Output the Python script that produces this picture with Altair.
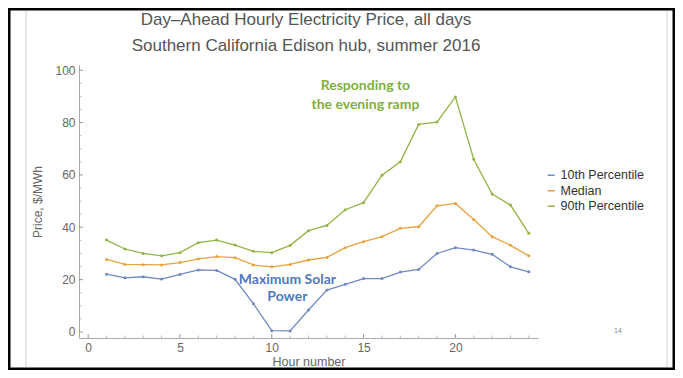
import altair as alt
import pandas as pd

hours = list(range(1, 25))
p10 = [22.1, 20.7, 21.1, 20.2, 22.0, 23.7, 23.5, 20.1, 10.8, 0.5, 0.4, 8.4,
       16.0, 18.2, 20.4, 20.4, 22.9, 23.9, 30.0, 32.2, 31.3, 29.7, 24.9, 23.0]
median = [27.7, 25.8, 25.7, 25.6, 26.5, 27.9, 28.8, 28.4, 25.6, 24.9, 25.8, 27.5,
          28.5, 32.2, 34.5, 36.4, 39.6, 40.2, 48.2, 49.1, 43.0, 36.4, 33.1, 29.1]
p90 = [35.1, 31.7, 30.0, 29.1, 30.3, 34.1, 35.1, 33.2, 30.8, 30.3, 33.1, 38.7,
       40.7, 46.7, 49.4, 59.9, 65.0, 79.3, 80.2, 89.8, 66.0, 52.7, 48.5, 37.7]
series_names = ["10th Percentile", "Median", "90th Percentile"]
colors = ["#7089c4", "#e8a33c", "#93b444"]

x_major = [0, 5, 10, 15, 20]
x_minor = [v for v in range(0, 25) if v % 5 != 0]
y_major = [0, 20, 40, 60, 80, 100]
y_minor = [v for v in range(0, 101, 5) if v % 20 != 0]

annot_text = ["Responding to", "the evening ramp", "Maximum Solar", "Power"]
annot_hour = [15.1, 15.1, 10.85, 10.85]
annot_price = [93.9, 86.6, 19.8, 13.4]
annot_color = ["#7fb03c", "#7fb03c", "#4f79bf", "#4f79bf"]

rows = []
for name, vals in zip(series_names, [p10, median, p90]):
    for h, v in zip(hours, vals):
        rows.append({"hour": h, "price": v, "series": name})
df = pd.DataFrame(rows)

W, H = 459, 273
xs = alt.Scale(domain=[-0.5, 24.5], nice=False, zero=False)
ys = alt.Scale(domain=[-2.3, 102], nice=False, zero=False)

x_axis = alt.Axis(values=x_major, ticks=False, grid=False, labelPadding=4,
                  title="Hour number", titlePadding=2, labelFontSize=12,
                  titleFontSize=12.5, titleFontWeight="normal")
y_axis = alt.Axis(values=y_major, ticks=False, grid=False, labelPadding=4,
                  title="Price, $/MWh", titlePadding=10, labelFontSize=12,
                  titleFontSize=12, titleFontWeight="normal")

legend = alt.Legend(orient="none", legendX=466, legendY=104, title=None,
                    symbolType="stroke", symbolSize=50, symbolStrokeWidth=1.5,
                    labelFontSize=12.5, labelColor="#333", rowPadding=2.5,
                    labelOffset=3, labelFont="Liberation Sans")
color = alt.Color("series:N", scale=alt.Scale(domain=series_names, range=colors),
                  legend=legend)

def X(field):
    return alt.X(field, scale=xs, axis=x_axis)

def Y(field):
    return alt.Y(field, scale=ys, axis=y_axis)

lines = alt.Chart(df).mark_line(strokeWidth=1.3).encode(
    x=X("hour:Q"), y=Y("price:Q"), color=color)
points = alt.Chart(df).mark_point(filled=True, size=9, opacity=1).encode(
    x=X("hour:Q"), y=Y("price:Q"), color=color)

ytick_major = alt.Chart(pd.DataFrame({"v": y_major})).mark_rule(color="#999").encode(
    y=Y("v:Q"), x=alt.value(0), x2=alt.value(4))
ytick_minor = alt.Chart(pd.DataFrame({"v": y_minor})).mark_rule(color="#bbb").encode(
    y=Y("v:Q"), x=alt.value(0), x2=alt.value(2.5))
xtick_major = alt.Chart(pd.DataFrame({"v": x_major})).mark_rule(color="#999").encode(
    x=X("v:Q"), y=alt.value(H), y2=alt.value(H - 4))
xtick_minor = alt.Chart(pd.DataFrame({"v": x_minor})).mark_rule(color="#bbb").encode(
    x=X("v:Q"), y=alt.value(H), y2=alt.value(H - 2.5))

annot = alt.Chart(pd.DataFrame({"t": annot_text, "h": annot_hour,
                                "p": annot_price, "c": annot_color})).mark_text(
    font="Lato", fontWeight="bold", fontSize=14, align="center", baseline="middle"
).encode(x=X("h:Q"), y=Y("p:Q"), text="t:N", color=alt.Color("c:N", scale=None))

one = pd.DataFrame({"t": ["Day\u2013Ahead Hourly Electricity Price, all days"]})
title1 = alt.Chart(one).mark_text(font="Liberation Sans", fontSize=17, color="#555",
                                  align="center", baseline="middle").encode(
    x=alt.value(227), y=alt.value(-45), text="t:N")
two = pd.DataFrame({"t": ["Southern California Edison hub, summer 2016"]})
title2 = alt.Chart(two).mark_text(font="Liberation Sans", fontSize=17, color="#555",
                                  align="center", baseline="middle").encode(
    x=alt.value(227), y=alt.value(-19), text="t:N")
pg = pd.DataFrame({"t": ["14"]})
pagenum = alt.Chart(pg).mark_text(font="Liberation Sans", fontSize=7, color="#888",
                                  align="center", baseline="middle").encode(
    x=alt.value(539), y=alt.value(266), text="t:N")

frame = alt.Chart(pd.DataFrame({"k": [0]})).mark_rect(
    fillOpacity=0, stroke="black", strokeWidth=2.5).encode(
    x=alt.value(-69.75), x2=alt.value(594.75), y=alt.value(-55.75), y2=alt.value(303.75))
side_lines = alt.Chart(pd.DataFrame({"p": [-53, 588]})).mark_rule(
    color="#d0d0d0", strokeWidth=1).encode(
    x=alt.X("p:Q", scale=None), y=alt.value(-54), y2=alt.value(302))

chart = alt.layer(
    side_lines, frame, ytick_minor, ytick_major, xtick_minor, xtick_major,
    lines, points, annot, title1, title2, pagenum
).properties(
    width=W, height=H,
    autosize=alt.AutoSizeParams(type="none"),
    padding={"left": 71, "top": 57, "right": 137, "bottom": 32},
    background="white",
).configure_view(stroke=None).configure_axis(
    domainColor="#aaa", labelColor="#666", titleColor="#666",
    labelFont="Liberation Sans", titleFont="Liberation Sans"
)

chart.save("out.html", embed_options={"renderer": "svg", "actions": False})
